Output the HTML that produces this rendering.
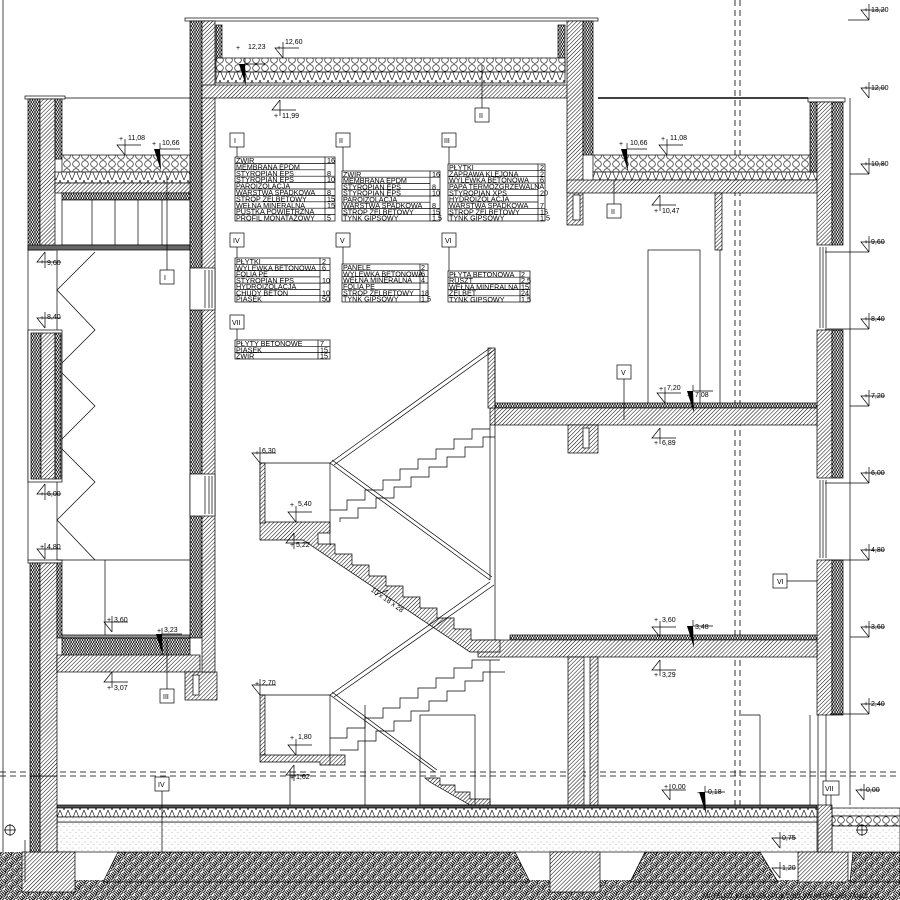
<!DOCTYPE html>
<html><head><meta charset="utf-8"><style>
html,body{margin:0;padding:0;background:#fff}
svg{display:block}
text{font-family:"Liberation Sans",sans-serif;fill:#000}
.t{font-size:7.2px}
.e{font-size:7px}
</style></head><body>
<svg width="900" height="900" viewBox="0 0 900 900" xmlns="http://www.w3.org/2000/svg">
<defs>
<pattern id="h" width="2.8" height="2.8" patternUnits="userSpaceOnUse" patternTransform="rotate(45)"><rect width="2.8" height="2.8" fill="#fff"/><line x1="0" y1="0" x2="0" y2="2.8" stroke="#000" stroke-width="1"/></pattern>
<pattern id="ins" width="5" height="4" patternUnits="userSpaceOnUse"><rect width="5" height="4" fill="#fff"/><path d="M0,0 L2.5,4 L5,0 M0,4 L2.5,0 L5,4" stroke="#000" stroke-width="0.6" fill="none"/></pattern>
<pattern id="zig" width="8" height="10" patternUnits="userSpaceOnUse"><rect width="8" height="10" fill="#fff"/><path d="M0,10 L4,0 L8,10" stroke="#000" stroke-width="0.6" fill="none"/></pattern>
<pattern id="grav" width="9" height="8" patternUnits="userSpaceOnUse"><rect width="9" height="8" fill="#fff"/><circle cx="4" cy="4" r="3.3" fill="none" stroke="#000" stroke-width="0.6"/></pattern>
<pattern id="sand" width="6" height="6" patternUnits="userSpaceOnUse"><rect width="6" height="6" fill="#fff"/><circle cx="1" cy="2" r="0.4" fill="#555"/><circle cx="4" cy="4.5" r="0.4" fill="#555"/></pattern>
<pattern id="soil" width="8" height="8" patternUnits="userSpaceOnUse" patternTransform="rotate(45)"><rect width="8" height="8" fill="#fff"/><path d="M0,1 H4 M0,3 H4 M5,4 V8 M7,4 V8 M4,5 V0 M6,0 V4 M0,5 H4 M0,7 H4" stroke="#000" stroke-width="0.9" fill="none"/></pattern>
<g id="ea"><path d="M0,0 L-8,-10 H16 M0,0 V-16" fill="none" stroke="#000" stroke-width="0.7"/></g>
<g id="eb"><path d="M0,0 L-8,10 H16 M0,0 V16" fill="none" stroke="#000" stroke-width="0.7"/></g>
<g id="ew"><path d="M-6,-14 L0,-14 L1,8 Z" fill="#000"/><path d="M0,-14 V-20 M0,-14 H20" stroke="#000" stroke-width="0.7"/></g>
</defs>
<g stroke="#000" stroke-width="0.7">
<g stroke-dasharray="6,4" stroke-width="0.8"><line x1="735" y1="0" x2="735" y2="900"/><line x1="740" y1="0" x2="740" y2="900"/><line x1="0" y1="772" x2="900" y2="772"/><line x1="0" y1="776" x2="900" y2="776"/></g>
<line x1="3" y1="0" x2="3" y2="900"/>

<rect x="0" y="880" width="900" height="20" fill="url(#soil)" stroke="none"/>
<path d="M118,852 H515 L530,882 H103 Z" fill="url(#soil)"/>
<path d="M645,852 H760 L778,882 H630 Z" fill="url(#soil)"/>
<path d="M853,852 H900 V882 H850 Z" fill="url(#soil)"/>
<rect x="0" y="852" width="22" height="30" fill="url(#soil)" stroke="none"/>
<rect x="57" y="822" width="760" height="30" fill="url(#sand)"/>
<rect x="22" y="852" width="53" height="40" fill="url(#h)"/>
<rect x="550" y="852" width="50" height="40" fill="url(#h)"/>
<rect x="798" y="852" width="50" height="30" fill="url(#h)"/>
<rect x="57" y="805" width="760" height="3" fill="#555"/>
<rect x="57" y="808" width="760" height="9" fill="url(#zig)"/>
<rect x="57" y="817" width="760" height="5" fill="url(#sand)"/>
<rect x="832" y="808" width="68" height="8" fill="url(#sand)"/>
<rect x="832" y="816" width="68" height="10" fill="url(#grav)"/>
<rect x="832" y="826" width="68" height="26" fill="url(#sand)"/>
<rect x="818" y="805" width="14" height="47" fill="url(#h)"/>
<rect x="40" y="776" width="17" height="76" fill="url(#h)"/>
<rect x="30" y="776" width="10" height="76" fill="url(#ins)"/>
<line x1="25" y1="840" x2="25" y2="882"/>
<circle cx="10" cy="830" r="5" fill="none"/><path d="M4,830 H16 M10,824 V836"/>
<circle cx="862" cy="830" r="5" fill="none"/><path d="M856,830 H868 M862,824 V836"/>

<rect x="25" y="96" width="40" height="3" fill="#fff"/>
<rect x="28" y="99" width="12" height="151" fill="url(#ins)"/>
<rect x="40" y="99" width="15" height="151" fill="url(#h)"/>
<rect x="55" y="99" width="7" height="60" fill="url(#ins)"/>
<line x1="65" y1="98" x2="190" y2="98"/>
<rect x="62" y="155" width="128" height="17" fill="url(#grav)"/>
<rect x="55" y="172" width="135" height="11" fill="url(#zig)"/>
<rect x="55" y="183" width="147" height="10" fill="url(#h)"/>
<rect x="62" y="193" width="128" height="7" fill="url(#ins)"/>
<rect x="62" y="200" width="128" height="45" fill="#fff"/>
<g><line x1="92" y1="200" x2="92" y2="245"/><line x1="115" y1="200" x2="115" y2="245"/><line x1="138" y1="200" x2="138" y2="245"/><line x1="162" y1="200" x2="162" y2="245"/></g>
<rect x="28" y="245" width="162" height="5" fill="#666"/>
<line x1="28" y1="250" x2="28" y2="560"/><line x1="57" y1="250" x2="57" y2="560"/>
<polyline points="95,252 57,290 95,330 57,368 95,406 57,444 95,482 57,520 95,560" fill="none"/>
<rect x="28" y="330" width="34" height="152" fill="#fff"/>
<rect x="31" y="333" width="10" height="146" fill="url(#ins)"/>
<rect x="41" y="333" width="14" height="146" fill="url(#h)"/>
<rect x="55" y="333" width="6" height="146" fill="url(#ins)"/>
<rect x="28" y="560" width="34" height="3" fill="#fff"/>
<rect x="30" y="563" width="10" height="213" fill="url(#ins)"/>
<rect x="40" y="563" width="17" height="213" fill="url(#h)"/>
<rect x="57" y="563" width="5" height="75" fill="url(#ins)"/>
<line x1="57" y1="560" x2="190" y2="560"/><line x1="105" y1="560" x2="105" y2="635"/>
<rect x="62" y="635" width="128" height="3" fill="#999"/>
<rect x="62" y="638" width="128" height="17" fill="url(#ins)"/>
<rect x="57" y="655" width="143" height="17" fill="url(#h)"/>
<rect x="185" y="672" width="32" height="28" fill="url(#h)"/>
<rect x="193" y="675" width="6" height="20" fill="#fff"/>

<rect x="185" y="18" width="413" height="3" fill="#fff"/>
<rect x="190" y="21" width="12" height="617" fill="url(#ins)"/>
<rect x="202" y="21" width="13" height="651" fill="url(#h)"/>
<rect x="190" y="268" width="25" height="42" fill="#fff"/>
<path d="M205,270 V308 M209,270 V308 M212,270 V308"/>
<rect x="190" y="474" width="25" height="42" fill="#fff"/>
<path d="M205,476 V514 M209,476 V514 M212,476 V514"/>
<rect x="216" y="25" width="6" height="47" fill="url(#ins)"/>
<rect x="558" y="25" width="7" height="47" fill="url(#ins)"/>
<rect x="216" y="58" width="349" height="14" fill="url(#grav)"/>
<rect x="216" y="72" width="349" height="11" fill="url(#zig)"/>
<rect x="202" y="85" width="380" height="13" fill="url(#h)"/>
<rect x="567" y="21" width="16" height="204" fill="url(#h)"/>
<rect x="583" y="21" width="10" height="134" fill="url(#ins)"/>
<rect x="573" y="195" width="7" height="25" fill="#fff"/>

<line x1="598" y1="98" x2="808" y2="98" stroke-width="1.4"/>
<rect x="808" y="98" width="37" height="4" fill="#fff"/>
<rect x="593" y="155" width="217" height="17" fill="url(#grav)"/>
<rect x="593" y="172" width="224" height="8" fill="url(#zig)"/>
<rect x="567" y="180" width="265" height="13" fill="url(#h)"/>
<rect x="810" y="102" width="7" height="70" fill="url(#ins)"/>
<rect x="817" y="102" width="15" height="143" fill="url(#h)"/>
<rect x="832" y="102" width="11" height="143" fill="url(#ins)"/>
<path d="M820,247 V328 M823,247 V328 M826,247 V328"/>
<rect x="817" y="330" width="15" height="148" fill="url(#h)"/>
<rect x="832" y="330" width="11" height="148" fill="url(#ins)"/>
<path d="M820,480 V558 M823,480 V558 M826,480 V558"/>
<rect x="817" y="560" width="15" height="155" fill="url(#h)"/>
<rect x="832" y="560" width="11" height="155" fill="url(#ins)"/>
<line x1="850" y1="98" x2="850" y2="805"/>
<path d="M818,715 V805 M826,715 V805"/>
<rect x="715" y="193" width="7" height="57" fill="url(#h)"/>
<line x1="720" y1="250" x2="720" y2="408"/>
<rect x="648" y="250" width="52" height="158" fill="none"/>
<rect x="495" y="403" width="322" height="5" fill="url(#ins)"/>
<rect x="490" y="408" width="327" height="17" fill="url(#h)"/>
<rect x="568" y="425" width="30" height="28" fill="url(#h)"/>
<rect x="583" y="428" width="6" height="20" fill="#fff"/>
<rect x="488" y="348" width="7" height="60" fill="url(#h)"/>
<line x1="495" y1="348" x2="495" y2="642"/>
<line x1="490" y1="425" x2="490" y2="580"/>
<rect x="510" y="635" width="307" height="5" fill="url(#ins)"/>
<rect x="478" y="640" width="339" height="17" fill="url(#h)"/>
<rect x="568" y="657" width="16" height="148" fill="url(#h)"/>
<rect x="590" y="657" width="8" height="148" fill="url(#h)"/>
<line x1="741" y1="715" x2="760" y2="715"/><line x1="760" y1="715" x2="760" y2="805"/>
<line x1="810" y1="715" x2="810" y2="805"/>

<path d="M260,463 V522 H330 V533 H318 V544 H335 V554 H352 V565 H369 V576 H386 V586 H403 V597 H420 V608 H437 V618 H454 V629 H471 V640 H500 V652 H478 L470,652 L303,540 H260 Z" fill="url(#h)"/>
<rect x="260" y="463" width="5" height="60" fill="url(#h)"/>
<path d="M330,463 L490,348 M334,465 L494,350" fill="none"/>
<path d="M330,463 L490,580 M332,460 L492,577" fill="none"/>
<path d="M330,695 L490,582 M334,697 L494,585" fill="none"/>
<path d="M330,695 L435,772 M332,692 L437,770" fill="none"/>
<line x1="330" y1="463" x2="330" y2="545"/>
<polyline points="330,510 347,510 347,500 365,500 365,490 383,490 383,480 400,480 400,469 418,469 418,459 436,459 436,449 454,449 454,439 472,439 472,429 490,429" fill="none"/>
<polyline points="340,522 340,518 358,518 358,508 376,508 376,498 394,498 394,487 411,487 411,477 429,477 429,467 447,467 447,457 465,457 465,447 483,447 483,437 495,437" fill="none"/>
<line x1="260" y1="463" x2="330" y2="463"/>
<rect x="260" y="695" width="5" height="60" fill="url(#h)"/>
<path d="M260,755 H345 V765 H320 V762 H260 Z" fill="url(#h)"/>
<line x1="260" y1="695" x2="330" y2="695"/>
<line x1="330" y1="695" x2="330" y2="765"/>
<polyline points="330,738 347,738 347,728 365,728 365,718 383,718 383,708 400,708 400,698 418,698 418,688 436,688 436,678 454,678 454,668 472,668 472,660 500,660" fill="none"/>
<polyline points="340,750 358,750 358,741 376,741 376,731 394,731 394,721 411,721 411,711 429,711 429,701 447,701 447,691 465,691 465,681 483,681 483,672 505,672" fill="none"/>
<path d="M425,778 H440 V785 H455 V792 H470 V799 H490 V805 H470 L430,782 Z" fill="url(#h)"/>
<line x1="365" y1="705" x2="365" y2="805"/><line x1="290" y1="770" x2="290" y2="805"/>
<rect x="420" y="715" width="55" height="90" fill="none"/>
<line x1="490" y1="660" x2="490" y2="805"/>
<path d="M375,595 L388,590" />

<g fill="#fff">
<rect x="160" y="270" width="14" height="14"/><rect x="475" y="108" width="14" height="14"/><rect x="607" y="204" width="14" height="14"/>
<rect x="160" y="689" width="14" height="14"/><rect x="617" y="365" width="14" height="14"/><rect x="773" y="574" width="14" height="14"/>
<rect x="155" y="777" width="14" height="14"/><rect x="823" y="781" width="16" height="14"/>
<rect x="230" y="133" width="14" height="14"/><rect x="336" y="133" width="14" height="14"/><rect x="442" y="133" width="14" height="14"/>
<rect x="230" y="233" width="14" height="14"/><rect x="336" y="233" width="14" height="14"/><rect x="442" y="233" width="14" height="14"/>
<rect x="230" y="315" width="14" height="14"/>
</g>
<path d="M167,176 V270 M482,65 V108 M614,180 V204 M167,640 V689 M624,379 V420 M787,581 H817 M162,791 V852 M831,795 V810"/>
<path d="M237,147 V157 M343,147 V171 M449,147 V164 M237,247 V258 M343,247 V264 M449,247 V271 M237,329 V340"/>

<g fill="none">
<rect x="235" y="157" width="100" height="64"/><line x1="325" y1="157" x2="325" y2="221"/>
<path d="M235,163.4 H335 M235,169.8 H325 M235,176.2 H335 M235,182.6 H335 M235,189 H335 M235,195.4 H335 M235,201.8 H335 M235,208.2 H335 M235,214.6 H335"/>
<rect x="342" y="171" width="98" height="50"/><line x1="430" y1="171" x2="430" y2="221"/>
<path d="M342,177.2 H440 M342,183.5 H430 M342,189.7 H440 M342,196 H440 M342,202.2 H430 M342,208.5 H440 M342,214.7 H440"/>
<rect x="448" y="164" width="97" height="57"/><line x1="538" y1="164" x2="538" y2="221"/>
<path d="M448,170.3 H545 M448,176.7 H545 M448,183 H545 M448,189.3 H538 M448,195.7 H545 M448,202 H538 M448,208.3 H545 M448,214.7 H545"/>
<rect x="235" y="258" width="95" height="44"/><line x1="320" y1="258" x2="320" y2="302"/>
<path d="M235,264.3 H330 M235,270.6 H330 M235,276.9 H320 M235,283.1 H330 M235,289.4 H320 M235,295.7 H330"/>
<rect x="342" y="264" width="86" height="38"/><line x1="420" y1="264" x2="420" y2="302"/>
<path d="M342,270.3 H428 M342,276.7 H428 M342,283 H428 M342,289.3 H420 M342,295.7 H428"/>
<rect x="448" y="271" width="82" height="31"/><line x1="520" y1="271" x2="520" y2="302"/>
<path d="M448,277.2 H530 M448,283.4 H530 M448,289.6 H530 M448,295.8 H530"/>
<rect x="235" y="340" width="95" height="19"/><line x1="318" y1="340" x2="318" y2="359"/>
<path d="M235,346.3 H330 M235,352.6 H330"/>
</g>
</g>

<g class="t">
<text x="234" y="143" font-size="7">I</text><text x="339" y="143" font-size="7">II</text><text x="444" y="143" font-size="7">III</text>
<text x="233" y="243" font-size="7">IV</text><text x="340" y="243" font-size="7">V</text><text x="445" y="243" font-size="7">VI</text><text x="232" y="325" font-size="7">VII</text>
<text x="164" y="280" font-size="7">I</text><text x="479" y="118" font-size="7">II</text><text x="611" y="214" font-size="7">II</text>
<text x="163" y="699" font-size="7">III</text><text x="621" y="375" font-size="7">V</text><text x="777" y="584" font-size="7">VI</text>
<text x="158" y="787" font-size="7">IV</text><text x="825" y="791" font-size="7">VII</text>

<text x="236" y="163">ZWIR</text><text x="327" y="163">16</text>
<text x="236" y="169.4">MEMBRANA EPDM</text>
<text x="236" y="175.8">STYROPIAN EPS</text><text x="327" y="175.8">8</text>
<text x="236" y="182.2">STYROPIAN EPS</text><text x="327" y="182.2">10</text>
<text x="236" y="188.6">PAROIZOLACJA</text>
<text x="236" y="195">WARSTWA SPADKOWA</text><text x="327" y="195">8</text>
<text x="236" y="201.4">STROP ŻELBETOWY</text><text x="327" y="201.4">15</text>
<text x="236" y="207.8">WEŁNA MINERALNA</text><text x="327" y="207.8">15</text>
<text x="236" y="214.2">PUSTKA POWIETRZNA</text>
<text x="236" y="220.6">PROFIL MONATAŻOWY</text><text x="327" y="220.6">5</text>

<text x="343" y="177">ZWIR</text><text x="432" y="177">16</text>
<text x="343" y="183.2">MEMBRANA EPDM</text>
<text x="343" y="189.5">STYROPIAN EPS</text><text x="432" y="189.5">8</text>
<text x="343" y="195.7">STYROPIAN EPS</text><text x="432" y="195.7">10</text>
<text x="343" y="202">PAROIZOLACJA</text>
<text x="343" y="208.2">WARSTWA SPADKOWA</text><text x="432" y="208.2">8</text>
<text x="343" y="214.5">STROP ŻELBETOWY</text><text x="432" y="214.5">15</text>
<text x="343" y="220.7">TYNK GIPSOWY</text><text x="432" y="220.7">1,5</text>

<text x="449" y="170">PŁYTKI</text><text x="540" y="170">2</text>
<text x="449" y="176.3">ZAPRAWA KLEJONA</text><text x="540" y="176.3">2</text>
<text x="449" y="182.7">WYLEWKA BETONOWA</text><text x="540" y="182.7">6</text>
<text x="449" y="189">PAPA TERMOZGRZEWALNA</text>
<text x="449" y="195.3">STYROPIAN XPS</text><text x="540" y="195.3">20</text>
<text x="449" y="201.7">HYDROIZOLACJA</text>
<text x="449" y="208">WARSTWA SPADKOWA</text><text x="540" y="208">7</text>
<text x="449" y="214.3">STROP ŻELBETOWY</text><text x="540" y="214.3">15</text>
<text x="449" y="220.7">TYNK GIPSOWY</text><text x="540" y="220.7">1,5</text>

<text x="236" y="264">PŁYTKI</text><text x="322" y="264">2</text>
<text x="236" y="270.3">WYLEWKA BETONOWA</text><text x="322" y="270.3">6</text>
<text x="236" y="276.6">FOLIA PE</text>
<text x="236" y="282.9">STYROPIAN EPS</text><text x="322" y="282.9">10</text>
<text x="236" y="289.1">HYDROIZOLACJA</text>
<text x="236" y="295.4">CHUDY BETON</text><text x="322" y="295.4">10</text>
<text x="236" y="301.7">PIASEK</text><text x="322" y="301.7">50</text>

<text x="343" y="270">PANELE</text><text x="421" y="270">2</text>
<text x="343" y="276.3">WYLEWKA BETONOWA</text><text x="421" y="276.3">6</text>
<text x="343" y="282.7">WEŁNA MINERALNA</text><text x="421" y="282.7">4</text>
<text x="343" y="289">FOLIA PE</text>
<text x="343" y="295.3">STROP ŻELBETOWY</text><text x="421" y="295.3">18</text>
<text x="343" y="301.7">TYNK GIPSOWY</text><text x="421" y="301.7">1,5</text>

<text x="449" y="277">PŁYTA BETONOWA</text><text x="521" y="277">2</text>
<text x="449" y="283.2">RUSZT</text><text x="521" y="283.2">2,5</text>
<text x="449" y="289.4">WEŁNA MINERALNA</text><text x="521" y="289.4">15</text>
<text x="449" y="295.6">ŻELBET</text><text x="521" y="295.6">24</text>
<text x="449" y="301.8">TYNK GIPSOWY</text><text x="521" y="301.8">1,5</text>

<text x="236" y="346">PŁYTY BETONOWE</text><text x="320" y="346">7</text>
<text x="236" y="352.3">PIASEK</text><text x="320" y="352.3">15</text>
<text x="236" y="358.6">ŻWIR</text><text x="320" y="358.6">15</text>
</g>

<g class="e">
<use href="#ea" x="869" y="20"/><text x="864" y="12">+</text><text x="871" y="12">13,20</text><line x1="848" y1="20" x2="869" y2="20" stroke="#000" stroke-width="0.7"/>
<use href="#ea" x="869" y="98"/><text x="864" y="90">+</text><text x="871" y="90">12,00</text>
<use href="#ea" x="869" y="174"/><text x="864" y="166">+</text><text x="871" y="166">10,80</text><line x1="850" y1="174" x2="869" y2="174" stroke="#000" stroke-width="0.7"/>
<use href="#ea" x="869" y="252"/><text x="864" y="244">+</text><text x="871" y="244">9,60</text><line x1="825" y1="252" x2="869" y2="252" stroke="#000" stroke-width="0.7"/>
<use href="#ea" x="869" y="329"/><text x="864" y="321">+</text><text x="871" y="321">8,40</text><line x1="825" y1="329" x2="869" y2="329" stroke="#000" stroke-width="0.7"/>
<use href="#ea" x="869" y="406"/><text x="864" y="398">+</text><text x="871" y="398">7,20</text><line x1="850" y1="406" x2="869" y2="406" stroke="#000" stroke-width="0.7"/>
<use href="#ea" x="869" y="483"/><text x="864" y="475">+</text><text x="871" y="475">6,00</text><line x1="825" y1="483" x2="869" y2="483" stroke="#000" stroke-width="0.7"/>
<use href="#ea" x="869" y="560"/><text x="864" y="552">+</text><text x="871" y="552">4,80</text><line x1="825" y1="560" x2="869" y2="560" stroke="#000" stroke-width="0.7"/>
<use href="#ea" x="869" y="637"/><text x="864" y="629">+</text><text x="871" y="629">3,60</text><line x1="850" y1="637" x2="869" y2="637" stroke="#000" stroke-width="0.7"/>
<use href="#ea" x="869" y="714"/><text x="864" y="706">+</text><text x="871" y="706">2,40</text><line x1="830" y1="714" x2="869" y2="714" stroke="#000" stroke-width="0.7"/>
<use href="#ea" x="864" y="800"/><text x="859" y="792">+</text><text x="866" y="792">0,00</text>

<use href="#ea" x="283" y="58"/><text x="277" y="50">+</text><text x="285" y="44">12,60</text>
<use href="#ew" x="245" y="78"/><text x="236" y="50">+</text><text x="248" y="49">12,23</text>
<use href="#eb" x="280" y="100"/><text x="274" y="118">+</text><text x="282" y="118">11,99</text>
<use href="#ea" x="125" y="155"/><text x="119" y="141">+</text><text x="128" y="140">11,08</text>
<use href="#ew" x="160" y="163"/><text x="152" y="146">+</text><text x="162" y="145">10,66</text>
<use href="#ea" x="667" y="155"/><text x="661" y="141">+</text><text x="670" y="140">11,08</text>
<use href="#ew" x="627" y="163"/><text x="619" y="146">+</text><text x="630" y="145">10,66</text>
<use href="#eb" x="660" y="195"/><text x="654" y="213">+</text><text x="662" y="213">10,47</text>
<use href="#eb" x="45" y="252"/><text x="40" y="264">+</text><text x="47" y="265">9,60</text>
<use href="#ea" x="45" y="328"/><text x="40" y="320">+</text><text x="47" y="319">8,40</text>
<use href="#eb" x="45" y="484"/><text x="40" y="496">+</text><text x="47" y="496">6,00</text>
<use href="#ea" x="45" y="559"/><text x="40" y="549">+</text><text x="47" y="549">4,80</text>
<use href="#ea" x="112" y="632"/><text x="107" y="622">+</text><text x="114" y="622">3,60</text>
<use href="#ew" x="162" y="648"/><text x="157" y="633">+</text><text x="164" y="632">3,23</text>
<use href="#eb" x="112" y="672"/><text x="107" y="690">+</text><text x="114" y="690">3,07</text>
<use href="#ea" x="260" y="463"/><text x="255" y="455">+</text><text x="262" y="453">6,30</text>
<use href="#ea" x="296" y="522"/><text x="290" y="507">+</text><text x="298" y="506">5,40</text>
<use href="#eb" x="294" y="533"/><text x="290" y="547">+</text><text x="296" y="547">5,22</text>
<use href="#ea" x="260" y="695"/><text x="255" y="686">+</text><text x="262" y="685">2,70</text>
<use href="#ea" x="296" y="755"/><text x="290" y="740">+</text><text x="298" y="739">1,80</text>
<use href="#eb" x="294" y="765"/><text x="290" y="780">+</text><text x="296" y="779">1,62</text>
<use href="#ea" x="665" y="403"/><text x="659" y="391">+</text><text x="667" y="390">7,20</text>
<use href="#ew" x="693" y="405"/><text x="687" y="398">+</text><text x="695" y="397">7,08</text>
<use href="#eb" x="660" y="428"/><text x="654" y="445">+</text><text x="662" y="445">6,89</text>
<use href="#ea" x="660" y="637"/><text x="654" y="622">+</text><text x="662" y="622">3,60</text>
<use href="#ew" x="693" y="640"/><text x="687" y="630">+</text><text x="695" y="629">3,48</text>
<use href="#eb" x="660" y="660"/><text x="654" y="677">+</text><text x="662" y="677">3,29</text>
<use href="#ea" x="670" y="800"/><text x="664" y="789">+</text><text x="672" y="789">0,00</text>
<use href="#ew" x="705" y="806"/><text x="697" y="795">-</text><text x="708" y="794">0,18</text>
<use href="#ea" x="780" y="848"/><text x="775" y="840">-</text><text x="782" y="840">0,75</text>
<use href="#ea" x="780" y="878"/><text x="775" y="870">-</text><text x="782" y="870">1,20</text>
<text x="370" y="592" transform="rotate(35 372 592)">10 x 18 x 28</text>
<text x="703" y="898" font-size="6.5">MATEUSZ KUKLIŃSKI POK 2013 WWW.PROJEKTANCI.CO</text>
</g>
</svg>
</body></html>
